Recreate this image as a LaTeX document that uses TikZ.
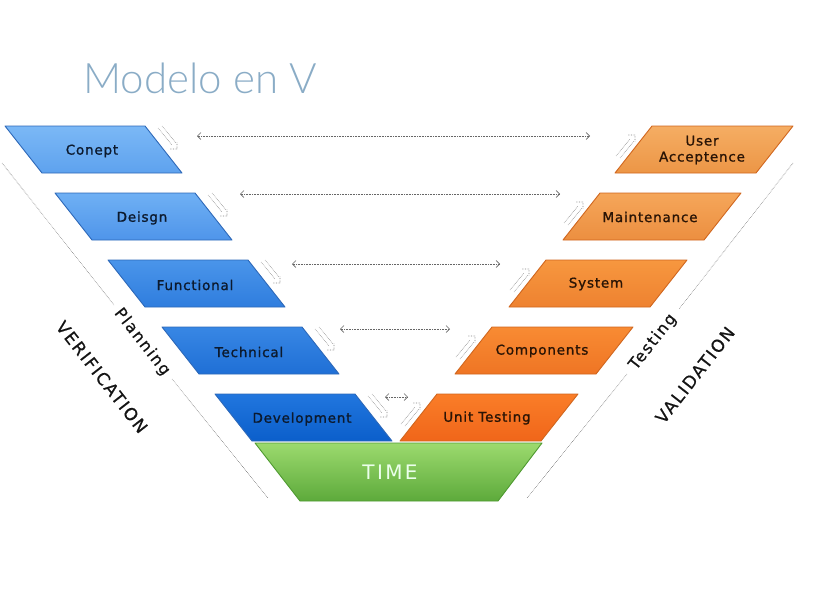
\documentclass[tikz,border=0pt]{standalone}
\usepackage{fontspec}
\setmainfont{DejaVu Sans}
\newfontfamily\titlefont{Lato Light}
\usetikzlibrary{arrows.meta}

% stage colours (top / bottom of each shaded parallelogram)
\definecolor{bAt}{HTML}{7BB8F6}\definecolor{bAb}{HTML}{5EA2EE}
\definecolor{bBt}{HTML}{6FB0F4}\definecolor{bBb}{HTML}{4F95EA}
\definecolor{bCt}{HTML}{4A95EA}\definecolor{bCb}{HTML}{2F7DDE}
\definecolor{bDt}{HTML}{3887E4}\definecolor{bDb}{HTML}{1F6FD6}
\definecolor{bEt}{HTML}{2176DE}\definecolor{bEb}{HTML}{0B5FCB}
\definecolor{bline}{HTML}{2D68B8}
\definecolor{oAt}{HTML}{F5AD63}\definecolor{oAb}{HTML}{EC9646}
\definecolor{oBt}{HTML}{F5A65A}\definecolor{oBb}{HTML}{EC8F40}
\definecolor{oCt}{HTML}{F7973F}\definecolor{oCb}{HTML}{EE8230}
\definecolor{oDt}{HTML}{F88B33}\definecolor{oDb}{HTML}{EF7524}
\definecolor{oEt}{HTML}{FA7D28}\definecolor{oEb}{HTML}{F0661A}
\definecolor{oline}{HTML}{D0661E}
\definecolor{gTop}{HTML}{9CDA6E}\definecolor{gBot}{HTML}{5DAA3B}
\definecolor{gline}{HTML}{4F9A30}
\definecolor{titleblue}{HTML}{8AACC6}
\definecolor{guide}{HTML}{7A7A7A}
\definecolor{bluetext}{HTML}{0C1A2E}
\definecolor{orangetext}{HTML}{2A1405}

\begin{document}
\begin{tikzpicture}[x=1pt,y=-1pt,
  stagebox/.style={line width=0.9pt,line join=round},
  labelfont/.style={font=\fontsize{13.5}{16}\selectfont\addfontfeature{LetterSpace=6,FakeBold=1.2}},
  bluelabel/.style={labelfont,text=bluetext,align=center},
  orangelabel/.style={labelfont,text=orangetext,align=center},
  sidelabel/.style={font=\fontsize{16}{18}\selectfont\addfontfeature{LetterSpace=10,FakeBold=0.6},text=black!92},
  biglabel/.style={sidelabel,font=\fontsize{17}{19}\selectfont\addfontfeature{LetterSpace=10,FakeBold=0.6}},
  guideline/.style={draw=guide,densely dotted,line width=0.6pt},
  pairarrow/.style={draw=black!60,densely dotted,line width=0.6pt,{Straight Barb[length=3.5pt,width=7pt]}-{Straight Barb[length=3.5pt,width=7pt]}},
  hookline/.style={draw=black!50,densely dotted,line width=0.6pt},
  lhook/.pic={\draw[hookline] (0,0) -- (14,17) (4,-2) -- (18,15) (12,21) -- (19,21) -- (19,14);},
  rhook/.pic={\draw[hookline] (0,0) -- (14,-17) (4,2) -- (18,-15) (12,-21) -- (19,-21) -- (19,-14);}
]
\useasboundingbox (0,0) rectangle (832,592);

% title
\node[anchor=base west,inner sep=0pt,text=titleblue,font=\titlefont\fontsize{42}{47}\selectfont] (title) at (83,93) {Modelo en V};

% outer guide lines of the V
\coordinate (lg1) at (2,163);   \coordinate (lg2) at (114,305);
\coordinate (lg3) at (172,379); \coordinate (lg4) at (268,498);
\coordinate (rg1) at (793,163); \coordinate (rg2) at (679,309);
\coordinate (rg3) at (627,374); \coordinate (rg4) at (527,498);
\path[guideline] (lg1) -- (lg2) (lg3) -- (lg4);
\path[guideline] (rg1) -- (rg2) (rg3) -- (rg4);

% side labels
\node[sidelabel,rotate=-52] (planning) at (142,342) {Planning};
\node[biglabel,rotate=-52] (verif) at (102,377) {VERIFICATION};
\node[sidelabel,rotate=52] (testing) at (653,342) {Testing};
\node[biglabel,rotate=52] (valid) at (695,375) {VALIDATION};

% time base
\shadedraw[stagebox,top color=gTop,bottom color=gBot,draw=gline]
  (255,443) -- (542,443) -- (498,501) -- (300,501) -- cycle;
\node[text=green!8!white,font=\fontsize{20}{22}\selectfont\addfontfeature{LetterSpace=12}] (time) at (390,472) {TIME};

% left arm: specification stages
\foreach \i/\x/\nm/\txt/\ct/\cb in {0/5/conept/Conept/bAt/bAb, 1/55/deisgn/Deisgn/bBt/bBb,
    2/108/functional/Functional/bCt/bCb, 3/162/technical/Technical/bDt/bDb,
    4/215/development/Development/bEt/bEb}{
  \pgfmathsetmacro\y{126+67*\i}
  \shadedraw[stagebox,top color=\ct,bottom color=\cb,draw=bline]
    (\x,\y) -- ++(140,0) -- ++(37,47) -- ++(-140,0) -- cycle;
  \node[bluelabel] (\nm) at (\x+87,\y+25) {\txt};
  \pic at (\x+153,\y+2) {lhook};
}

% right arm: test stages
\foreach \i/\x/\nm/\txt/\ct/\cb in {0/652/useracc/{User\\Acceptence}/oAt/oAb, 1/600/maintenance/Maintenance/oBt/oBb,
    2/546/system/System/oCt/oCb, 3/492/components/Components/oDt/oDb,
    4/437/unittesting/Unit Testing/oEt/oEb}{
  \pgfmathsetmacro\y{126+67*\i}
  \shadedraw[stagebox,top color=\ct,bottom color=\cb,draw=oline]
    (\x,\y) -- ++(141,0) -- ++(-37,47) -- ++(-141,0) -- cycle;
  \node[orangelabel] (\nm) at (\x+50,\y+24) {\txt};
  \pic at (\x-36,\y+30) {rhook};
}

% verification links between matching stages
\coordinate (a0l) at (197,136); \coordinate (a0r) at (590,136);
\coordinate (a1l) at (240,194); \coordinate (a1r) at (560,194);
\coordinate (a2l) at (292,264); \coordinate (a2r) at (500,264);
\coordinate (a3l) at (340,329); \coordinate (a3r) at (450,329);
\coordinate (a4l) at (385,397); \coordinate (a4r) at (408,397);
\foreach \k in {0,...,4}{ \path[pairarrow] (a\k l) -- (a\k r); }
\end{tikzpicture}
\end{document}
